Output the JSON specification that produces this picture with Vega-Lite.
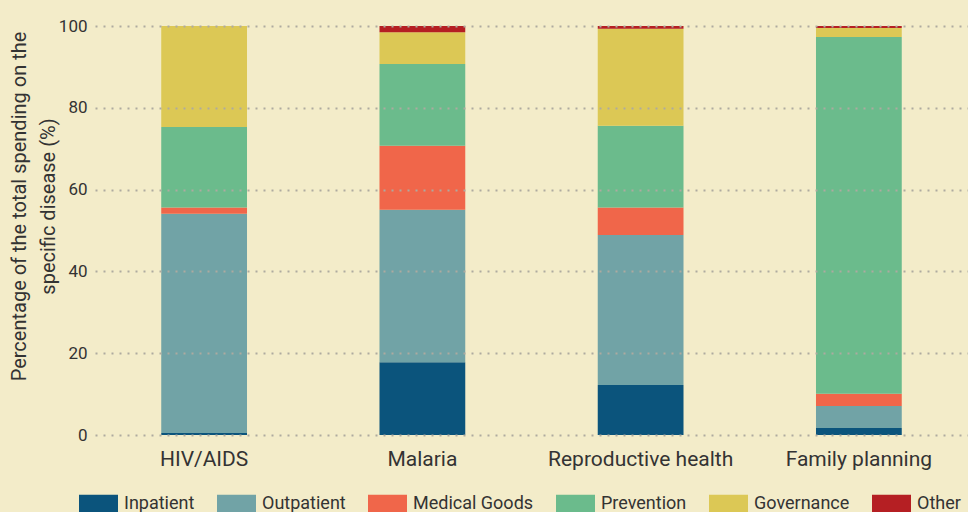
{
  "$schema": "https://vega.github.io/schema/vega-lite/v6.json",
  "autosize": "none",
  "width": 873,
  "height": 409,
  "padding": {"left": 95, "top": 26, "right": 0, "bottom": 77},
  "background": "#f3ecc9",
  "config": {
    "view": {"stroke": null},
    "font": "Roboto",
    "text": {"font": "Roboto"}
  },
  "data": {
    "values": [
      {"disease": "HIV/AIDS", "category": "Inpatient", "order": 1, "value": 0.5},
      {"disease": "HIV/AIDS", "category": "Outpatient", "order": 2, "value": 53.6},
      {"disease": "HIV/AIDS", "category": "Medical Goods", "order": 3, "value": 1.5},
      {"disease": "HIV/AIDS", "category": "Prevention", "order": 4, "value": 19.7},
      {"disease": "HIV/AIDS", "category": "Governance", "order": 5, "value": 24.7},
      {"disease": "HIV/AIDS", "category": "Other", "order": 6, "value": 0},
      {"disease": "Malaria", "category": "Inpatient", "order": 1, "value": 17.8},
      {"disease": "Malaria", "category": "Outpatient", "order": 2, "value": 37.3},
      {"disease": "Malaria", "category": "Medical Goods", "order": 3, "value": 15.6},
      {"disease": "Malaria", "category": "Prevention", "order": 4, "value": 20.0},
      {"disease": "Malaria", "category": "Governance", "order": 5, "value": 7.8},
      {"disease": "Malaria", "category": "Other", "order": 6, "value": 1.5},
      {"disease": "Reproductive health", "category": "Inpatient", "order": 1, "value": 12.2},
      {"disease": "Reproductive health", "category": "Outpatient", "order": 2, "value": 36.7},
      {"disease": "Reproductive health", "category": "Medical Goods", "order": 3, "value": 6.7},
      {"disease": "Reproductive health", "category": "Prevention", "order": 4, "value": 20.0},
      {"disease": "Reproductive health", "category": "Governance", "order": 5, "value": 23.7},
      {"disease": "Reproductive health", "category": "Other", "order": 6, "value": 0.7},
      {"disease": "Family planning", "category": "Inpatient", "order": 1, "value": 1.7},
      {"disease": "Family planning", "category": "Outpatient", "order": 2, "value": 5.4},
      {"disease": "Family planning", "category": "Medical Goods", "order": 3, "value": 3.0},
      {"disease": "Family planning", "category": "Prevention", "order": 4, "value": 87.2},
      {"disease": "Family planning", "category": "Governance", "order": 5, "value": 2.2},
      {"disease": "Family planning", "category": "Other", "order": 6, "value": 0.5}
    ]
  },
  "mark": {"type": "bar"},
  "encoding": {
    "x": {
      "field": "disease",
      "type": "nominal",
      "sort": ["HIV/AIDS", "Malaria", "Reproductive health", "Family planning"],
      "scale": {"paddingInner": 0.607, "paddingOuter": 0.3035},
      "axis": {
        "title": null,
        "labelAngle": 0,
        "domain": false,
        "ticks": false,
        "labelFontSize": 21,
        "labelLimit": 0,
        "labelColor": "#333333",
        "labelPadding": 13,
        "grid": false
      }
    },
    "y": {
      "field": "value",
      "type": "quantitative",
      "stack": "zero",
      "scale": {"domain": [0, 100], "nice": false},
      "axis": {
        "values": [0, 20, 40, 60, 80, 100],
        "title": ["Percentage of the total spending on the", "specific disease (%)"],
        "titleFontSize": 20,
        "titleFontWeight": "normal",
        "titleColor": "#333333",
        "titleLineHeight": 29,
        "titlePadding": 0,
        "titleY": 180,
        "labelFontSize": 17,
        "labelColor": "#333333",
        "labelPadding": 8,
        "domain": false,
        "ticks": false,
        "grid": true,
        "gridColor": "#aeaaa0",
        "gridDash": [2, 6],
        "gridWidth": 2,
        "zindex": 1
      }
    },
    "color": {
      "field": "category",
      "type": "nominal",
      "scale": {
        "domain": ["Inpatient", "Outpatient", "Medical Goods", "Prevention", "Governance", "Other"],
        "range": ["#0b547c", "#71a3a6", "#f0664a", "#6bbb8c", "#dcc855", "#b51f23"]
      },
      "legend": {
        "title": null,
        "orient": "none",
        "direction": "horizontal",
        "legendX": -16,
        "legendY": 458,
        "symbolType": "M-1,-0.46H1V0.46H-1Z",
        "symbolSize": 1521,
        "symbolStrokeWidth": 0,
        "symbolOpacity": 1,
        "labelFontSize": 18,
        "labelColor": "#333333",
        "labelOffset": 6,
        "columnPadding": 22
      }
    },
    "order": {"field": "order", "type": "quantitative"}
  }
}
